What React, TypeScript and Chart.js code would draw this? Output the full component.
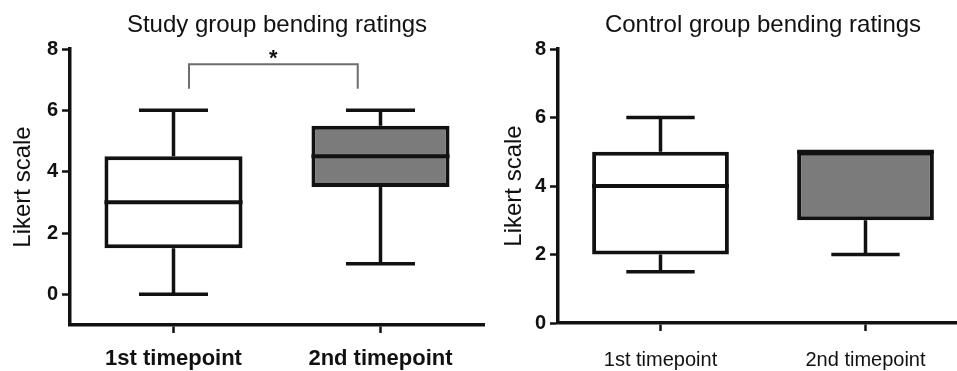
import React, { useEffect, useRef } from "react";
import { Chart, registerables } from "chart.js";

Chart.register(...registerables);

// ---------- data ----------
const categories = ["1st timepoint", "2nd timepoint"];
const yTickValues = [0, 2, 4, 6, 8];

const studyMin = [0, 1];
const studyQ1 = [1.5, 3.5];
const studyMedian = [3, 4.5];
const studyQ3 = [4.5, 5.5];
const studyMax = [6, 6];

const controlMin = [1.5, 2];
const controlQ1 = [2, 3];
const controlMedian = [4, 5];
const controlQ3 = [5, 5];
const controlMax = [6, 5];

const boxColors = ["#ffffff", "#7b7b7b"];

// significance bracket (study group), in category / value units
const bracketFrom = 0.075;
const bracketTo = 0.89;
const bracketTop = 7.5;
const bracketBottom = 6.7;
const bracketLabel = "*";

const FONT = "'Liberation Sans', Arial, Helvetica, sans-serif";
const INK = "#111111";

type BoxStats = { min: number[]; q1: number[]; median: number[]; q3: number[]; max: number[] };

function whiskerPlugin(stats: BoxStats, bracket: boolean) {
  return {
    id: "whiskers",
    afterDatasetsDraw(chart: any) {
      const ctx = chart.ctx;
      const xs = chart.scales.x;
      const ys = chart.scales.y;
      const meta = chart.getDatasetMeta(0);
      ctx.save();
      ctx.strokeStyle = INK;
      ctx.lineCap = "butt";
      stats.min.forEach((_, i) => {
        const bar = meta.data[i];
        const x = xs.getPixelForValue(i);
        const half = bar.width / 2;
        const cap = bar.width / 4;
        const yMin = ys.getPixelForValue(stats.min[i]);
        const yMax = ys.getPixelForValue(stats.max[i]);
        const yQ1 = ys.getPixelForValue(stats.q1[i]);
        const yQ3 = ys.getPixelForValue(stats.q3[i]);
        const yMed = ys.getPixelForValue(stats.median[i]);
        ctx.lineWidth = 3.5;
        ctx.beginPath();
        if (stats.max[i] > stats.q3[i]) {
          ctx.moveTo(x, yQ3);
          ctx.lineTo(x, yMax);
          ctx.moveTo(x - cap, yMax);
          ctx.lineTo(x + cap, yMax);
        }
        if (stats.min[i] < stats.q1[i]) {
          ctx.moveTo(x, yQ1);
          ctx.lineTo(x, yMin);
          ctx.moveTo(x - cap, yMin);
          ctx.lineTo(x + cap, yMin);
        }
        ctx.stroke();
        ctx.lineWidth = 4;
        ctx.beginPath();
        ctx.moveTo(x - half, yMed);
        ctx.lineTo(x + half, yMed);
        ctx.stroke();
      });
      if (bracket) {
        const x1 = xs.getPixelForValue(bracketFrom);
        const x2 = xs.getPixelForValue(bracketTo);
        const yt = ys.getPixelForValue(bracketTop);
        const yb = ys.getPixelForValue(bracketBottom);
        ctx.strokeStyle = "#6e6e6e";
        ctx.lineWidth = 2;
        ctx.beginPath();
        ctx.moveTo(x1, yb);
        ctx.lineTo(x1, yt);
        ctx.lineTo(x2, yt);
        ctx.lineTo(x2, yb);
        ctx.stroke();
        ctx.fillStyle = INK;
        ctx.font = `bold 22px ${FONT}`;
        ctx.textAlign = "center";
        ctx.textBaseline = "alphabetic";
        ctx.fillText(bracketLabel, (x1 + x2) / 2, yt + 1);
      }
      ctx.restore();
    },
  };
}

type PanelCfg = {
  title: string;
  titleSize: number;
  titlePadTop: number;
  titlePadBottom: number;
  yMin: number;
  yAxisWidth: number;
  yTitlePad: number;
  xAxisHeight: number;
  xLabelFont: any;
  xLabelPad: number;
  padRight: number;
  stats: BoxStats;
  bracket: boolean;
};

function makeChart(canvas: HTMLCanvasElement, cfg: PanelCfg) {
  return new Chart(canvas, {
    type: "bar",
    data: {
      labels: categories,
      datasets: [
        {
          data: cfg.stats.q1.map((v, i) => [v, cfg.stats.q3[i]]) as any,
          backgroundColor: boxColors,
          borderColor: INK,
          borderWidth: 4,
          borderSkipped: false,
          categoryPercentage: 1,
          barPercentage: 0.667,
        },
      ],
    },
    options: {
      animation: false,
      responsive: false,
      maintainAspectRatio: false,
      layout: { padding: { left: 0, right: cfg.padRight, top: 0, bottom: 0 } },
      plugins: {
        legend: { display: false },
        tooltip: { enabled: false },
        title: {
          display: true,
          text: cfg.title,
          fullSize: false,
          color: INK,
          font: { family: FONT, size: cfg.titleSize, weight: "normal" },
          padding: { top: cfg.titlePadTop, bottom: cfg.titlePadBottom },
        },
      },
      scales: {
        x: {
          type: "category",
          offset: true,
          grid: {
            offset: false,
            drawOnChartArea: false,
            drawTicks: true,
            tickLength: 8,
            tickWidth: 2.5,
            tickColor: INK,
          },
          border: { display: true, color: INK, width: 3.5 },
          ticks: {
            color: INK,
            font: cfg.xLabelFont,
            padding: cfg.xLabelPad,
            maxRotation: 0,
            minRotation: 0,
            autoSkip: false,
          },
          afterFit: (s: any) => {
            s.height = cfg.xAxisHeight;
          },
        },
        y: {
          type: "linear",
          min: cfg.yMin,
          max: 8,
          afterBuildTicks: (s: any) => {
            s.ticks = yTickValues.map((v) => ({ value: v }));
          },
          grid: {
            drawOnChartArea: false,
            drawTicks: true,
            tickLength: 8,
            tickWidth: 2.5,
            tickColor: INK,
          },
          border: { display: true, color: INK, width: 3.5 },
          ticks: {
            color: INK,
            font: { family: FONT, size: 20, weight: "bold" },
            padding: 4,
          },
          title: {
            display: true,
            text: "Likert scale",
            color: INK,
            font: { family: FONT, size: 24, weight: "normal" },
            padding: { top: cfg.yTitlePad, bottom: 0 },
          },
          afterFit: (s: any) => {
            s.width = cfg.yAxisWidth;
          },
        },
      },
    },
    plugins: [whiskerPlugin(cfg.stats, cfg.bracket)],
  } as any);
}

export default function App() {
  const leftRef = useRef<HTMLCanvasElement>(null);
  const rightRef = useRef<HTMLCanvasElement>(null);

  useEffect(() => {
    const left = makeChart(leftRef.current!, {
      title: "Study group bending ratings",
      titleSize: 24,
      titlePadTop: 10.5,
      titlePadBottom: 9.7,
      yMin: -1,
      yAxisWidth: 70,
      yTitlePad: 9,
      xAxisHeight: 46,
      xLabelFont: { family: FONT, size: 22, weight: "bold" },
      xLabelPad: 13,
      padRight: 3,
      stats: { min: studyMin, q1: studyQ1, median: studyMedian, q3: studyQ3, max: studyMax },
      bracket: true,
    });
    const right = makeChart(rightRef.current!, {
      title: "Control group bending ratings",
      titleSize: 24,
      titlePadTop: 10.6,
      titlePadBottom: 9.6,
      yMin: 0,
      yAxisWidth: 78,
      yTitlePad: 20,
      xAxisHeight: 48,
      xLabelFont: { family: FONT, size: 20, weight: "normal" },
      xLabelPad: 17,
      padRight: 0,
      stats: { min: controlMin, q1: controlQ1, median: controlMedian, q3: controlQ3, max: controlMax },
      bracket: false,
    });
    return () => {
      left.destroy();
      right.destroy();
    };
  }, []);

  return (
    <div
      style={{
        position: "fixed",
        left: 0,
        top: 0,
        width: 957,
        height: 371,
        overflow: "hidden",
        background: "#ffffff",
      }}
    >
      <canvas
        ref={leftRef}
        width={487}
        height={371}
        style={{ position: "absolute", left: 0, top: 0, width: 487, height: 371 }}
      />
      <canvas
        ref={rightRef}
        width={488}
        height={371}
        style={{ position: "absolute", left: 480, top: 0, width: 488, height: 371 }}
      />
    </div>
  );
}
